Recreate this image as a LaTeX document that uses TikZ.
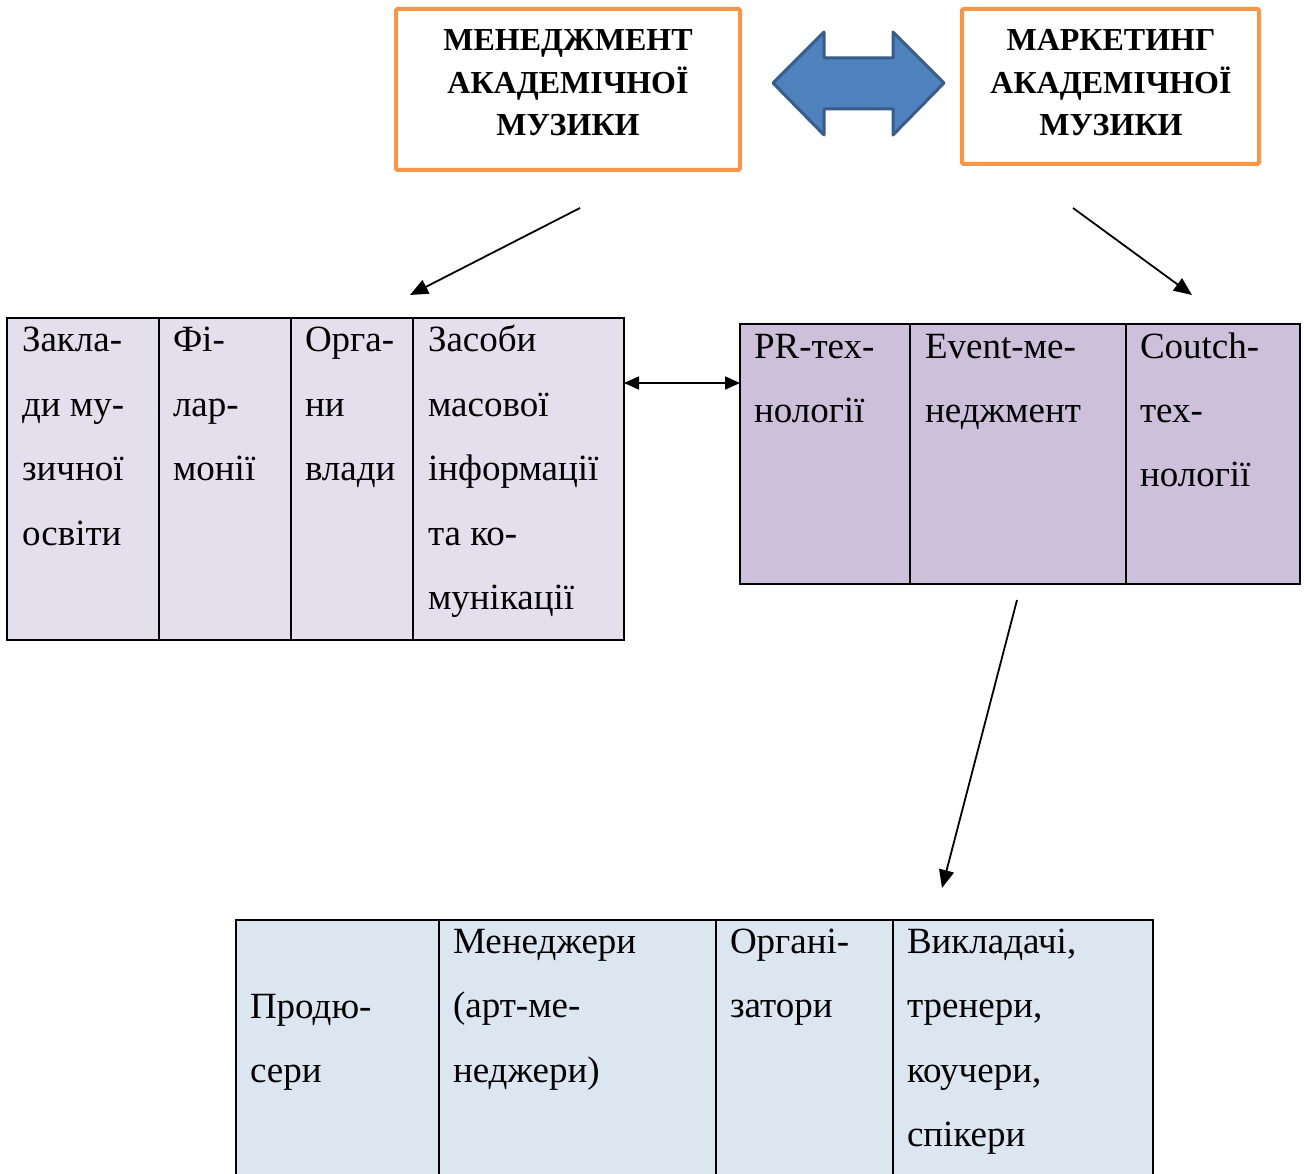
\documentclass[tikz,border=0pt]{standalone}
\usepackage{fontspec}
\setmainfont{Liberation Serif}
\usetikzlibrary{arrows.meta}
\definecolor{orangeb}{HTML}{F79646}
\definecolor{blockfill}{HTML}{4F81BD}
\definecolor{blockdraw}{HTML}{385D8A}
\definecolor{lilaclight}{HTML}{E4DFEC}
\definecolor{lilac}{HTML}{CCC0DA}
\definecolor{bluelight}{HTML}{DCE6F1}
\tikzset{
  every node/.style={inner sep=0pt, outer sep=0pt},
  topbox/.style={draw=orangeb, line width=4pt, rounded corners=1.5pt, rectangle},
  toptext/.style={anchor=base, font=\fontsize{32}{42.5}\selectfont\bfseries},
  cellbox/.style={draw=black, line width=2pt, rectangle, anchor=north west},
  celltext/.style={anchor=base west, font=\fontsize{37}{64.5}\selectfont},
  conn/.style={line width=1.8pt, -{Triangle[length=18pt,width=15pt]}},
  dconn/.style={line width=1.8pt, {Triangle[length=15pt,width=13pt]}-{Triangle[length=15pt,width=13pt]}}
}
\newcommand\ctr[1]{\hbox to 0pt{\hss #1\hss}}
\begin{document}
\begin{tikzpicture}[x=1pt,y=-1pt]
\clip (0,0) rectangle (1304,1174);
\fill[white] (0,0) rectangle (1304,1174);

% top boxes
\node[topbox, minimum width=344pt, minimum height=161pt] (mgmt) at (568,89.5) {};
\node[topbox, minimum width=297pt, minimum height=155pt] (mkt) at (1110.5,86.5) {};
\node[toptext] (mgmtt) at (568,51) {\vtop{\ctr{МЕНЕДЖМЕНТ}\ctr{АКАДЕМІЧНОЇ}\ctr{МУЗИКИ}}};
\node[toptext] (mktt) at (1111,51) {\vtop{\ctr{МАРКЕТИНГ}\ctr{АКАДЕМІЧНОЇ}\ctr{МУЗИКИ}}};

% block double arrow
\draw[fill=blockfill, draw=blockdraw, line width=3pt, line join=round]
  (773,83) -- (824,32) -- (824,58) -- (893,58) -- (893,32) -- (944,83)
  -- (893,135) -- (893,109) -- (824,109) -- (824,135) -- cycle;

% left table
\node[cellbox, fill=lilaclight, minimum width=152pt, minimum height=322pt] (l1) at (7,318) {};
\node[cellbox, fill=lilaclight, minimum width=132pt, minimum height=322pt] (l2) at (159,318) {};
\node[cellbox, fill=lilaclight, minimum width=122pt, minimum height=322pt] (l3) at (291,318) {};
\node[cellbox, fill=lilaclight, minimum width=211pt, minimum height=322pt] (l4) at (413,318) {};
\node[celltext] (l1t) at (22,352) {\vtop{\hbox{Закла-}\hbox{ди му-}\hbox{зичної}\hbox{освіти}}};
\node[celltext] (l2t) at (173,352) {\vtop{\hbox{Фі-}\hbox{лар-}\hbox{монії}}};
\node[celltext] (l3t) at (305,352) {\vtop{\hbox{Орга-}\hbox{ни}\hbox{влади}}};
\node[celltext] (l4t) at (428,352) {\vtop{\hbox{Засоби}\hbox{масової}\hbox{інформації}\hbox{та ко-}\hbox{мунікації}}};

% right table
\node[cellbox, fill=lilac, minimum width=170pt, minimum height=260pt] (r1) at (740,324) {};
\node[cellbox, fill=lilac, minimum width=216pt, minimum height=260pt] (r2) at (910,324) {};
\node[cellbox, fill=lilac, minimum width=174pt, minimum height=260pt] (r3) at (1126,324) {};
\node[celltext] (r1t) at (754,358) {\vtop{\hbox{PR-тех-}\hbox{нології}}};
\node[celltext] (r2t) at (925,358) {\vtop{\hbox{Event-ме-}\hbox{неджмент}}};
\node[celltext] (r3t) at (1140,358) {\vtop{\hbox{Coutch-}\hbox{тех-}\hbox{нології}}};

% bottom table
\node[cellbox, fill=bluelight, minimum width=203pt, minimum height=280pt] (b1) at (236,920) {};
\node[cellbox, fill=bluelight, minimum width=277pt, minimum height=280pt] (b2) at (439,920) {};
\node[cellbox, fill=bluelight, minimum width=177pt, minimum height=280pt] (b3) at (716,920) {};
\node[cellbox, fill=bluelight, minimum width=260pt, minimum height=280pt] (b4) at (893,920) {};
\node[celltext] (b1t) at (250,1018) {\vtop{\hbox{Продю-}\hbox{сери}}};
\node[celltext] (b2t) at (453,953) {\vtop{\hbox{Менеджери}\hbox{(арт-ме-}\hbox{неджери)}}};
\node[celltext] (b3t) at (730,953) {\vtop{\hbox{Органі-}\hbox{затори}}};
\node[celltext] (b4t) at (907,953) {\vtop{\hbox{Викладачі,}\hbox{тренери,}\hbox{коучери,}\hbox{спікери}}};

% connectors
\coordinate (a1s) at (580,208);
\coordinate (a1e) at (410,295);
\coordinate (a2s) at (1073,208);
\coordinate (a2e) at (1192,295);
\coordinate (a3s) at (1017,600);
\coordinate (a3e) at (942,888);
\coordinate (dl) at (l4.east |- 0,383);
\coordinate (dr) at (r1.west |- 0,383);
\draw[conn] (a1s) -- (a1e);
\draw[conn] (a2s) -- (a2e);
\draw[conn] (a3s) -- (a3e);
\draw[dconn] (dl) -- (dr);
\end{tikzpicture}
\end{document}
